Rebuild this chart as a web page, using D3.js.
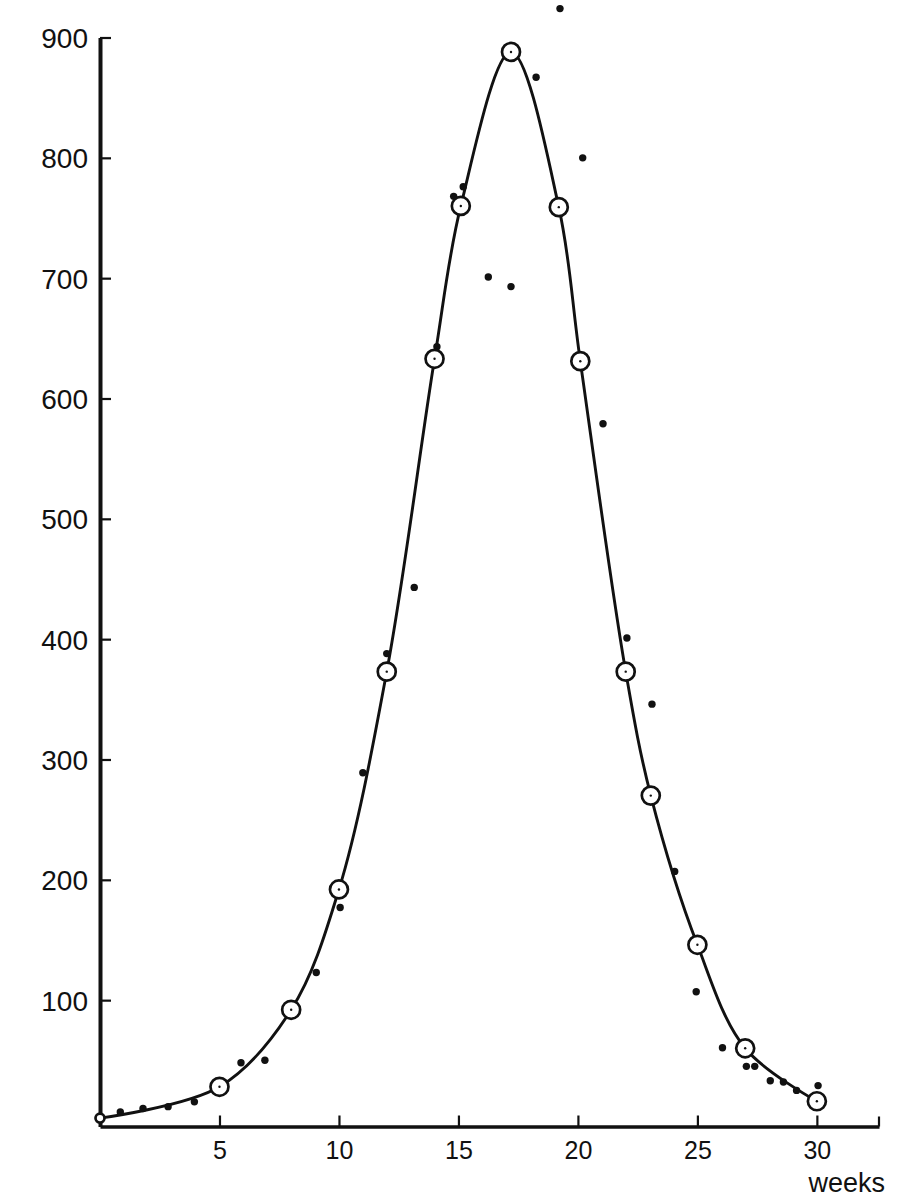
<!DOCTYPE html>
<html><head><meta charset="utf-8">
<script src="https://cdn.jsdelivr.net/npm/d3@7"></script>
<style>body{margin:0;background:#fff}svg{display:block}</style>
</head><body><svg id="c" width="919" height="1200"></svg>
<script>
// Fitted (open circle) points, week and value
const fittedWeeks  = [0, 5, 8, 10, 12, 14, 15.1, 17.2, 19.2, 20.1, 22, 23.05, 25, 27, 30];
const fittedValues = [2, 28, 92, 192, 373, 633, 760, 888, 759, 631, 373, 270, 146, 60, 16];
// Observed (filled dot) points
const obsWeeks  = [0.85, 1.8, 2.85, 3.95, 5.9, 6.9, 9.05, 10.05, 11.0, 12.0, 13.15, 14.1, 14.8, 15.2, 16.25, 17.2, 18.25, 19.25, 20.2, 21.05, 22.05, 23.1, 24.05, 24.95, 26.05, 27.05, 27.4, 28.05, 28.6, 29.15, 30.05];
const obsValues = [7, 10, 11.5, 15.5, 48, 50, 123, 177, 289, 388, 443, 643, 768, 776, 701, 693, 867, 924, 800, 579, 401, 346, 207, 107, 60.5, 45, 45, 33, 32, 25, 29];
const xTicks = [5, 10, 15, 20, 25, 30];
const yTicks = [100, 200, 300, 400, 500, 600, 700, 800, 900];
const xLabel = "weeks";

const svg = d3.select("#c");
const ink = "#111";
const font = "Liberation Sans, Arial, sans-serif";
const x = d3.scaleLinear().domain([0, 32.6]).range([100, 879]);
const y = d3.scaleLinear().domain([-5, 900]).range([1126.5, 37.5]);

// axes
const yAxis = d3.axisLeft(y).tickValues(yTicks).tickSize(-11).tickSizeOuter(0).tickPadding(12);
const gy = svg.append("g").attr("transform", `translate(${x(0)},0)`).call(yAxis);
gy.select(".domain").attr("stroke", ink).attr("stroke-width", 4);
gy.selectAll(".tick line").attr("stroke", ink).attr("stroke-width", 2.2);
gy.selectAll(".tick text").attr("fill", ink).attr("font-family", font)
  .attr("font-size", 28).attr("dy", "0.36em");

const xAxis = d3.axisBottom(x).tickValues(xTicks).tickSize(-11).tickSizeOuter(0).tickPadding(15);
const gx = svg.append("g").attr("transform", `translate(0,${y(-5)})`).call(xAxis);
gx.select(".domain").attr("stroke", ink).attr("stroke-width", 3.5);
gx.selectAll(".tick line").attr("stroke", ink).attr("stroke-width", 2.2);
gx.selectAll(".tick text").attr("fill", ink).attr("font-family", font)
  .attr("font-size", 25);
// end tick at the right end of the axis
gx.append("line").attr("x1", x(x.domain()[1])).attr("x2", x(x.domain()[1]))
  .attr("y1", 0).attr("y2", -10).attr("stroke", ink).attr("stroke-width", 2.2);

svg.append("text").attr("x", 885).attr("y", 1192).attr("text-anchor", "end")
  .attr("font-family", font).attr("font-size", 27)
  .attr("fill", ink).text(xLabel);

// curve through fitted points
const fitted = fittedWeeks.map((w, i) => ({w, v: fittedValues[i]}));
const line = d3.line().x(d => x(d.w)).y(d => y(d.v)).curve(d3.curveCatmullRom.alpha(0.5));
svg.append("path").datum(fitted).attr("d", line).attr("fill", "none")
  .attr("stroke", ink).attr("stroke-width", 2.9);

// observed dots
const obs = obsWeeks.map((w, i) => ({w, v: obsValues[i]}));
svg.append("g").selectAll("circle").data(obs).join("circle")
  .attr("cx", d => x(d.w)).attr("cy", d => y(d.v)).attr("r", 3.7).attr("fill", ink);

// fitted open circles
const gf = svg.append("g");
gf.selectAll("circle.o").data(fitted).join("circle").attr("class", "o")
  .attr("cx", d => x(d.w)).attr("cy", d => y(d.v)).attr("r", (d, i) => i === 0 ? 4.5 : 9)
  .attr("fill", "#fff").attr("stroke", ink).attr("stroke-width", 2.7);
gf.selectAll("circle.c").data(fitted.slice(1)).join("circle").attr("class", "c")
  .attr("cx", d => x(d.w)).attr("cy", d => y(d.v)).attr("r", 1.2).attr("fill", ink);
</script>
</body></html>
